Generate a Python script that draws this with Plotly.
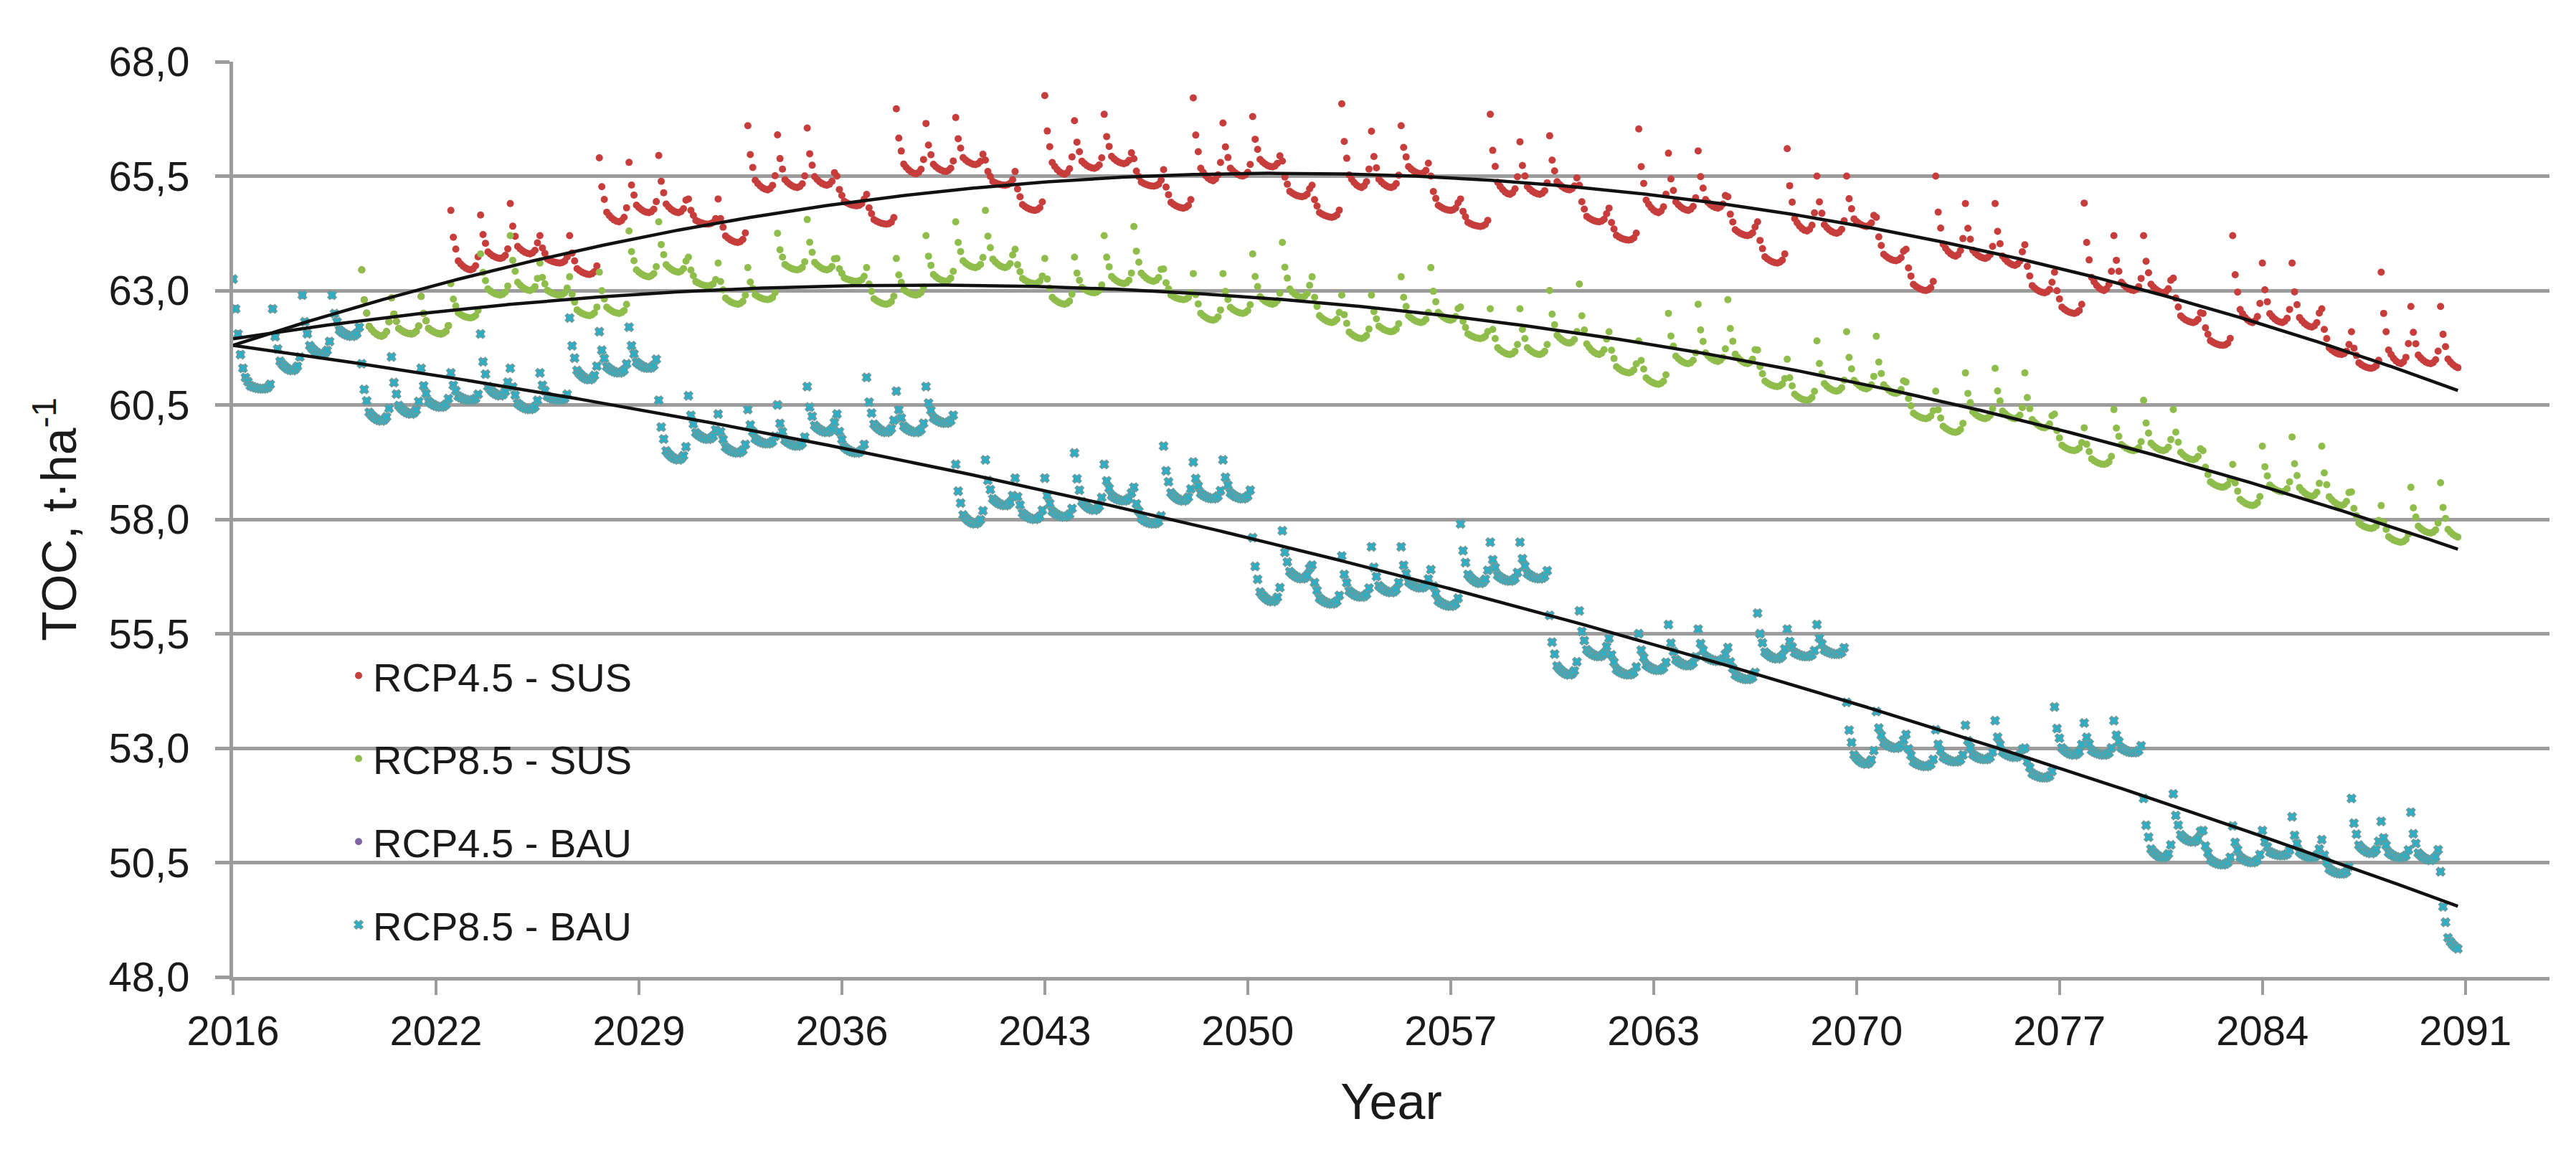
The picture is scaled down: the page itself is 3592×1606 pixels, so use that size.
import numpy as np
import plotly.graph_objects as go

# ---------------- data ----------------
# Monthly series Jan 2016 .. Dec 2090 (900 months).
# First four months (Jan-Apr 2016), shared by all scenarios
start_values = [63.25, 62.6, 62.05, 61.6]

# Each growth cycle runs May..April; one entry per year 2016..2090
cycle_years = list(range(2016, 2091))

# within-cycle shape (May..Apr), 1 = spike, 0 = cluster bottom
month_shape = [1.0, 0.55, 0.35, 0.15, 0.10, 0.06, 0.03, 0.01, 0.0, 0.02, 0.07, 0.22]

# RCP8.5 - SUS : spike (May) and bottom of the yearly cluster
sus85_spike = [61.3, 62.6, 62.9, 62.9, 63.45, 62.84, 62.87, 63.15, 63.8, 64.2,
               63.6, 63.3, 63.4, 64.3, 64.5, 63.73, 63.6, 63.5, 64.25, 64.55,
               63.7, 63.5, 63.7, 64.2, 64.5, 64.75, 63.9, 63.7, 63.73, 64.2,
               64.4, 63.47, 63.37, 63.37, 63.8, 64.05, 63.3, 62.9, 62.9, 63.3,
               63.5, 62.64, 62.6, 62.6, 63.0, 63.14, 62.1, 61.9, 62.5, 62.7,
               62.8, 61.7, 61.5, 61.9, 62.1, 62.0, 61.0, 60.8, 61.2, 61.3,
               61.2, 60.3, 60.0, 60.4, 60.6, 60.4, 59.5, 59.2, 59.6, 59.8,
               59.6, 58.6, 58.3, 58.7, 58.8]
sus85_base = [60.85, 61.25, 61.6, 62.0, 62.0, 62.05, 62.05, 62.4, 62.9, 63.0,
              62.9, 62.45, 62.5, 63.3, 63.4, 63.1, 62.7, 62.8, 63.45, 63.45,
              63.2, 62.7, 62.9, 63.2, 63.5, 63.5, 63.15, 62.7, 62.95, 63.15,
              63.2, 62.8, 62.35, 62.5, 62.7, 62.85, 62.3, 61.95, 62.1, 62.3,
              62.35, 61.95, 61.6, 61.6, 61.85, 61.6, 61.2, 60.95, 61.4, 61.45,
              61.4, 60.9, 60.6, 60.8, 60.85, 60.75, 60.2, 59.9, 60.2, 60.2,
              60.0, 59.5, 59.2, 59.5, 59.5, 59.3, 58.7, 58.3, 58.6, 58.5,
              58.3, 57.8, 57.5, 57.7, 57.6]

# RCP4.5 - SUS (identical to RCP8.5 - SUS until 2022)
sus45_spike = sus85_spike[:7] + [
               64.75, 64.65, 64.9, 64.2, 64.2, 65.9, 65.8, 65.95, 65.0, 65.0,
               66.6, 66.4, 66.55, 65.5, 65.1, 66.97, 66.65, 66.78, 65.85, 65.6,
               67.26, 66.71, 66.85, 65.88, 65.64, 67.21, 66.66, 66.8, 65.83, 65.3,
               67.08, 66.48, 66.6, 65.5, 65.0, 66.85, 66.25, 66.38, 65.3, 64.8,
               66.53, 66.0, 66.05, 65.05, 64.5, 66.1, 65.5, 65.5, 64.6, 63.9,
               65.5, 64.9, 64.9, 64.0, 63.4, 64.91, 64.2, 64.2, 63.27, 62.5,
               64.2, 63.6, 63.6, 62.6, 62.1, 63.4, 62.65, 62.65]
sus45_base = sus85_base[:7] + [
              63.45, 63.7, 63.8, 63.6, 63.35, 64.5, 64.7, 64.7, 64.45, 64.05,
              65.2, 65.25, 65.3, 64.85, 64.45, 65.55, 65.6, 65.75, 65.3, 64.75,
              65.54, 65.67, 65.77, 65.28, 64.8, 65.4, 65.5, 65.7, 65.05, 64.6,
              65.25, 65.25, 65.55, 64.75, 64.4, 65.1, 65.1, 65.2, 64.5, 64.1,
              64.7, 64.75, 64.8, 64.2, 63.6, 64.3, 64.25, 64.4, 63.65, 63.0,
              63.75, 63.7, 63.55, 62.95, 62.5, 63.0, 63.0, 62.95, 62.3, 61.8,
              62.3, 62.3, 62.2, 61.6, 61.3, 61.4, 61.4, 61.3]

# RCP8.5 - BAU
bau85_spike = [61.3, 62.6, 62.9, 62.9, 61.4, 61.55, 61.3, 61.2, 62.05, 61.3,
               61.2, 62.4, 62.1, 62.2, 60.6, 60.7, 60.3, 60.4, 60.5, 60.9,
               60.3, 61.1, 60.8, 60.9, 59.2, 59.3, 58.9, 58.9, 59.45, 59.2,
               58.7, 59.6, 59.25, 59.3, 57.6, 57.75, 57.0, 57.2, 57.4, 57.4,
               56.9, 57.9, 57.5, 57.5, 55.9, 56.0, 55.4, 55.5, 55.7, 55.6,
               55.2, 55.95, 55.6, 55.7, 54.0, 53.8, 53.3, 53.4, 53.5, 53.6,
               53.0, 53.9, 53.55, 53.6, 51.9, 52.0, 51.2, 51.3, 51.2, 51.5,
               51.0, 51.9, 51.4, 51.6, 50.3]
bau85_base = [60.85, 61.25, 61.6, 62.0, 60.15, 60.3, 60.45, 60.6, 60.7, 60.4,
              60.6, 61.05, 61.2, 61.3, 59.3, 59.75, 59.45, 59.65, 59.6, 59.9,
              59.45, 59.9, 59.9, 60.1, 57.9, 58.3, 58.0, 58.05, 58.2, 58.4,
              57.9, 58.4, 58.45, 58.45, 56.2, 56.7, 56.15, 56.3, 56.4, 56.5,
              56.1, 56.6, 56.65, 56.7, 54.6, 55.0, 54.6, 54.7, 54.8, 54.9,
              54.5, 54.95, 55.0, 55.05, 52.65, 53.0, 52.6, 52.7, 52.75, 52.8,
              52.35, 52.85, 52.85, 52.9, 50.6, 50.95, 50.45, 50.5, 50.65, 50.6,
              50.25, 50.7, 50.6, 50.55, 48.6]

# RCP4.5 - BAU lies exactly under RCP8.5 - BAU in the picture
bau45_spike = list(bau85_spike)
bau45_base = list(bau85_base)

n_months = 900
tick_months = [0, 82, 164, 246, 328, 410, 492, 574, 656, 738, 820, 902]
tick_labels = ["2016", "2022", "2029", "2036", "2043", "2050",
               "2057", "2063", "2070", "2077", "2084", "2091"]
y_ticks = [48.0, 50.5, 53.0, 55.5, 58.0, 60.5, 63.0, 65.5, 68.0]
y_labels = ["48,0", "50,5", "53,0", "55,5", "58,0", "60,5", "63,0", "65,5", "68,0"]

series_names = ["RCP4.5 - SUS", "RCP8.5 - SUS", "RCP4.5 - BAU", "RCP8.5 - BAU"]
series_colors = ["#C63D3C", "#8FBD4B", "#8064A2", "#27B1C8"]


def monthly(spike, base):
    vals = list(start_values)
    for i in range(len(start_values), n_months):
        c, p = divmod(i - 4, 12)
        vals.append(base[c] + (spike[c] - base[c]) * month_shape[p])
    return np.array(vals)


months = np.arange(n_months)
series = [monthly(sus45_spike, sus45_base), monthly(sus85_spike, sus85_base),
          monthly(bau45_spike, bau45_base), monthly(bau85_spike, bau85_base)]

fig = go.Figure()
symbols = ["circle", "circle", "circle", "x"]
sizes = [10, 10, 10, 11]
for k in range(4):
    marker = dict(color=series_colors[k], size=sizes[k], symbol=symbols[k])
    if symbols[k] == "x":
        marker["line"] = dict(color="#6E9A9A", width=1.3)
    else:
        marker["line"] = dict(width=0)
    fig.add_trace(go.Scatter(x=months, y=series[k], mode="markers",
                             name=series_names[k], marker=marker,
                             legendgroup="g%d" % k))

# polynomial (order 2) trend lines
for k in (0, 1, 3):
    coef = np.polyfit(months, series[k], 2)
    fig.add_trace(go.Scatter(x=months, y=np.polyval(coef, months), mode="lines",
                             line=dict(color="#111111", width=4.5),
                             showlegend=False, hoverinfo="skip"))

axis_grey = "#9C9C9C"
font_family = "Liberation Sans, Arial, sans-serif"
fig.update_layout(
    width=3592, height=1606,
    margin=dict(l=317, r=45, t=78, b=252),
    paper_bgcolor="white", plot_bgcolor="white",
    font=dict(family=font_family, color="#1A1A1A", size=58),
    showlegend=True,
    legend=dict(x=0.048, y=0.363, xanchor="left", yanchor="top",
                bgcolor="rgba(0,0,0,0)", font=dict(size=56, color="#1A1A1A"),
                tracegroupgap=40, itemsizing="trace"),
    xaxis=dict(range=[0, 936], tickmode="array", tickvals=tick_months,
               ticktext=tick_labels, showgrid=False, zeroline=False,
               showline=True, linecolor=axis_grey, linewidth=5,
               ticks="outside", ticklen=20, tickwidth=4, tickcolor=axis_grey,
               tickfont=dict(size=58, color="#1A1A1A"),
               title=dict(text="Year", font=dict(size=70, color="#1A1A1A"),
                          standoff=45)),
    yaxis=dict(range=[48, 68], tickmode="array", tickvals=y_ticks,
               ticktext=y_labels, showgrid=True, gridcolor=axis_grey,
               gridwidth=5, zeroline=False, showline=True, linecolor=axis_grey,
               linewidth=5, ticks="outside", ticklen=20, tickwidth=5,
               tickcolor=axis_grey, ticklabelstandoff=24,
               tickfont=dict(size=58, color="#1A1A1A"),
               title=dict(text="TOC, t\u00b7ha<sup>-1</sup>",
                          font=dict(size=68, color="#1A1A1A"), standoff=24)),
)

fig.write_html("out.html")
